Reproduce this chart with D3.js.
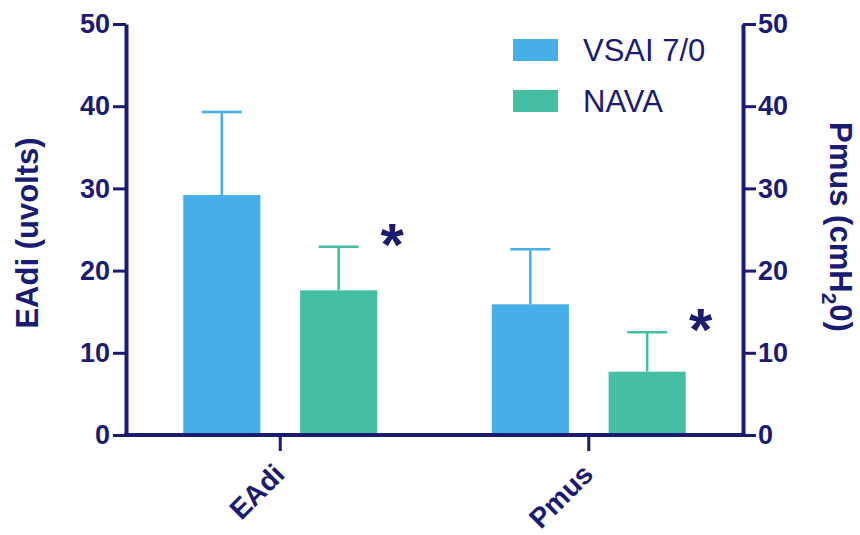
<!DOCTYPE html>
<html>
<head>
<meta charset="utf-8">
<script src="https://cdn.jsdelivr.net/npm/d3@7"></script>
<style>
  html, body { margin: 0; padding: 0; background: #ffffff; }
  svg { display: block; }
</style>
</head>
<body>
<div id="chart"></div>
<script>
// ---- data ----
const categories = ["EAdi", "Pmus"];
const series = ["VSAI 7/0", "NAVA"];
const vsaiMean = [29.2, 15.9];
const vsaiSD = [10.1, 6.7];
const navaMean = [17.6, 7.7];
const navaSD = [5.3, 4.8];
const significant = [true, true];   // NAVA vs VSAI
const leftTicks = [0, 10, 20, 30, 40, 50];
const rightTicks = [0, 10, 20, 30, 40, 50];

const colors = { "VSAI 7/0": "#46aee8", "NAVA": "#44bfa4" };
const ink = "#1b1b72";
const font = "'Liberation Sans', Arial, Helvetica, sans-serif";

const W = 860, H = 535;
const svg = d3.select("#chart").append("svg").attr("width", W).attr("height", H)
  .style("font-family", font);

const x0 = d3.scaleBand().domain(categories).range([126, 743]).padding(0);
const x1 = d3.scaleBand().domain(series).range([0, x0.bandwidth()])
  .paddingInner(0.34).paddingOuter(0.49);
const yL = d3.scaleLinear().domain([0, 50]).range([435, 24]);
const yR = d3.scaleLinear().domain([0, 50]).range([435, 24]);

const rows = [];
categories.forEach((c, i) => {
  rows.push({ cat: c, s: series[0], mean: vsaiMean[i], sd: vsaiSD[i] });
  rows.push({ cat: c, s: series[1], mean: navaMean[i], sd: navaSD[i] });
});

// bars
svg.append("g").selectAll("rect").data(rows).join("rect")
  .attr("x", d => x0(d.cat) + x1(d.s))
  .attr("width", x1.bandwidth())
  .attr("y", d => yL(d.mean))
  .attr("height", d => yL(0) - yL(d.mean))
  .attr("fill", d => colors[d.s]);

// error bars (upper only)
const eb = svg.append("g").selectAll("g").data(rows).join("g")
  .attr("stroke", d => colors[d.s]).attr("stroke-width", 2.5);
eb.append("line")
  .attr("x1", d => x0(d.cat) + x1(d.s) + x1.bandwidth() / 2)
  .attr("x2", d => x0(d.cat) + x1(d.s) + x1.bandwidth() / 2)
  .attr("y1", d => yL(d.mean)).attr("y2", d => yL(d.mean + d.sd));
eb.append("line")
  .attr("x1", d => x0(d.cat) + x1(d.s) + x1.bandwidth() / 2 - 20)
  .attr("x2", d => x0(d.cat) + x1(d.s) + x1.bandwidth() / 2 + 20)
  .attr("y1", d => yL(d.mean + d.sd)).attr("y2", d => yL(d.mean + d.sd));

// axes
function styleAxis(g) {
  g.select(".domain").attr("stroke", ink).attr("stroke-width", 4);
  g.selectAll(".tick line").attr("stroke", ink).attr("stroke-width", 3);
  g.selectAll(".tick text").attr("fill", ink)
    .style("font-family", font).style("font-size", "27px").style("font-weight", "bold");
}
const gl = svg.append("g").attr("transform", "translate(126,0)")
  .call(d3.axisLeft(yL).tickValues(leftTicks).tickSize(13).tickSizeOuter(0).tickPadding(3));
styleAxis(gl);
const gr = svg.append("g").attr("transform", "translate(743,0)")
  .call(d3.axisRight(yR).tickValues(rightTicks).tickSize(13).tickSizeOuter(0).tickPadding(2));
styleAxis(gr);
const gb = svg.append("g").attr("transform", "translate(0,435)")
  .call(d3.axisBottom(x0).tickSize(16).tickSizeOuter(0));
styleAxis(gb);
gb.select(".domain").attr("d", "M124,0H745");
gb.selectAll(".tick text")
  .attr("x", 0).attr("y", 0).attr("dy", 0)
  .attr("text-anchor", "end")
  .attr("transform", "translate(6,41) rotate(-45)")
  .style("font-size", "28px");

// axis titles
svg.append("text")
  .attr("transform", "translate(38,233) rotate(-90)")
  .attr("text-anchor", "middle")
  .attr("fill", ink).style("font-size", "31px").style("font-weight", "bold")
  .text("EAdi (uvolts)");
const rt = svg.append("text")
  .attr("transform", "translate(830,227) rotate(90)")
  .attr("text-anchor", "middle")
  .attr("fill", ink).style("font-size", "31px").style("font-weight", "bold");
rt.append("tspan").text("Pmus (cmH");
rt.append("tspan").attr("dy", 8).style("font-size", "21px").text("2");
rt.append("tspan").attr("dy", -8).text("0)");

// significance stars
svg.append("g").selectAll("text").data(rows.filter(d => d.s === "NAVA" && significant[categories.indexOf(d.cat)]))
  .join("text")
  .attr("x", d => x0(d.cat) + x1(d.s) + x1.bandwidth() + 15)
  .attr("y", d => yL(d.mean + d.sd) + 18)
  .attr("text-anchor", "middle")
  .attr("fill", ink).style("font-size", "60px").style("font-weight", "bold")
  .text("*");

// legend
const lg = svg.append("g").selectAll("g").data(series).join("g")
  .attr("transform", (d, i) => `translate(513,${39 + i * 51})`);
lg.append("rect").attr("width", 45).attr("height", 22).attr("fill", d => colors[d]);
lg.append("text").attr("x", 70).attr("y", 22)
  .attr("fill", ink).style("font-size", "31px")
  .text(d => d);
</script>
</body>
</html>
